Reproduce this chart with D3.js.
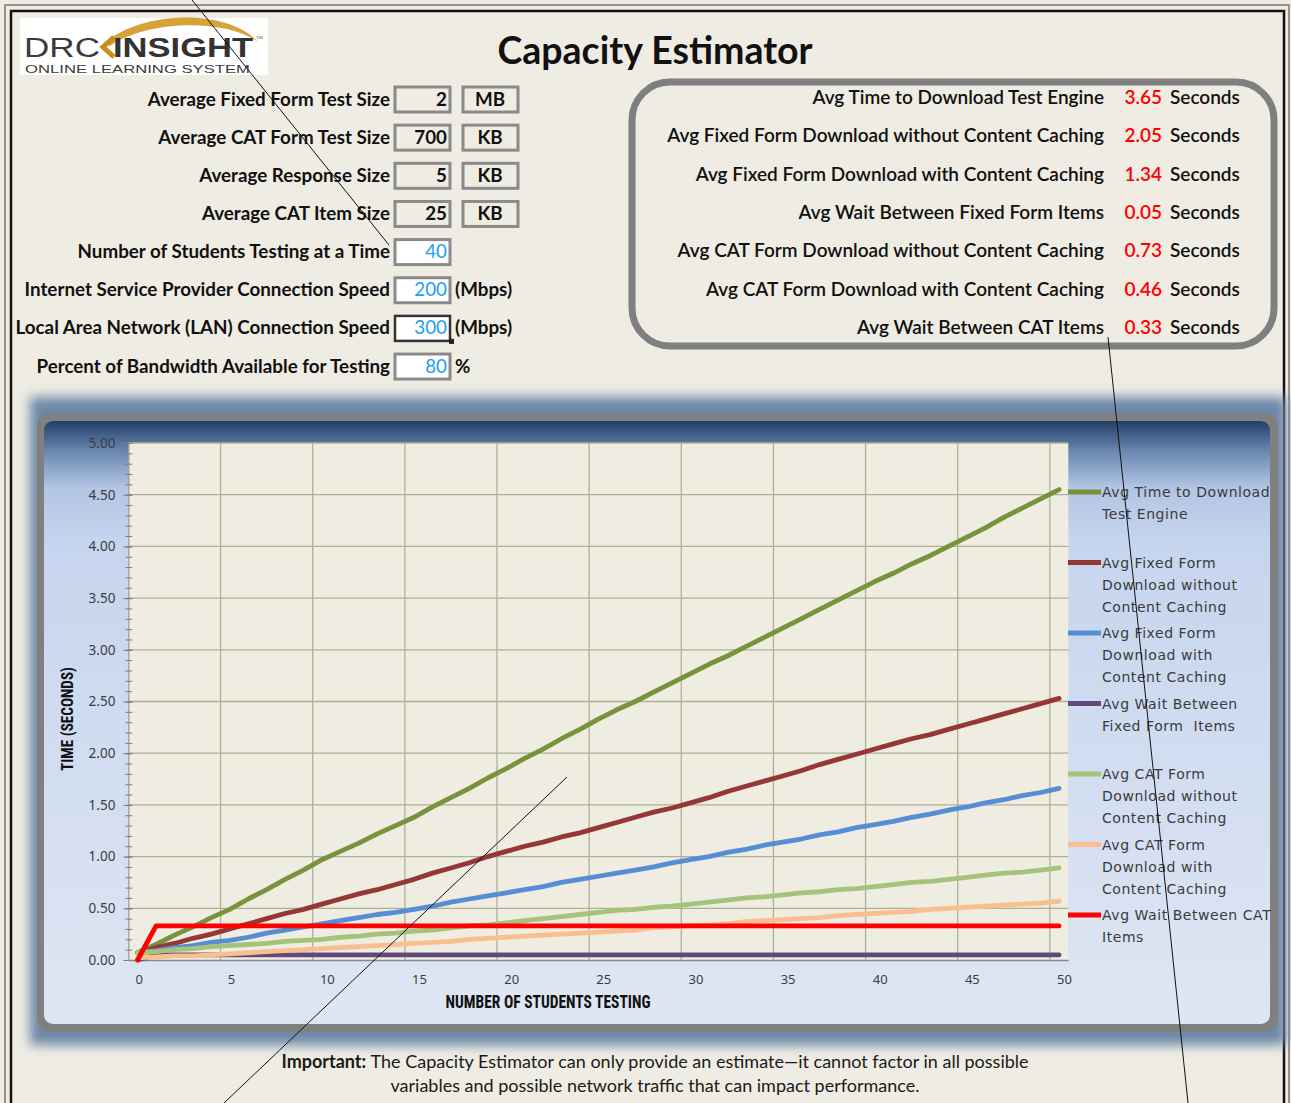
<!DOCTYPE html>
<html>
<head>
<meta charset="utf-8">
<script src="https://cdn.jsdelivr.net/npm/d3@7"></script>
<style>
  body { margin: 0; background: #efece3; }
  svg { display: block; }
</style>
</head>
<body>
<div id="page"></div>
<script>
// chart data
const students = [0,1,2,3,4,5,6,7,8,9,10,11,12,13,14,15,16,17,18,19,20,21,22,23,24,25,26,27,28,29,30,31,32,33,34,35,36,37,38,39,40,41,42,43,44,45,46,47,48,49,50]
const xTickLabels = [0,5,10,15,20,25,30,35,40,45,50]
const yTickLabels = [0,0.5,1,1.5,2,2.5,3,3.5,4,4.5,5]

const engineTime = [0.07,0.15,0.24,0.32,0.41,0.49,0.59,0.68,0.78,0.87,0.97,1.05,1.13,1.22,1.30,1.38,1.48,1.57,1.66,1.76,1.85,1.95,2.04,2.14,2.23,2.33,2.42,2.50,2.59,2.68,2.77,2.86,2.94,3.03,3.12,3.21,3.30,3.39,3.48,3.57,3.66,3.74,3.83,3.91,4.00,4.09,4.18,4.28,4.37,4.46,4.55]
const fixedNoCache = [0.07,0.12,0.16,0.21,0.25,0.30,0.35,0.40,0.45,0.49,0.54,0.59,0.64,0.68,0.73,0.78,0.84,0.89,0.94,1.00,1.05,1.10,1.14,1.19,1.23,1.28,1.33,1.38,1.43,1.47,1.52,1.57,1.63,1.68,1.73,1.78,1.83,1.89,1.94,1.99,2.04,2.09,2.14,2.18,2.23,2.28,2.33,2.38,2.43,2.48,2.53]
const fixedCache = [0.07,0.09,0.12,0.14,0.17,0.19,0.22,0.26,0.29,0.32,0.35,0.38,0.41,0.44,0.46,0.49,0.52,0.56,0.59,0.62,0.65,0.68,0.71,0.75,0.78,0.81,0.84,0.87,0.90,0.94,0.97,1.00,1.04,1.07,1.11,1.14,1.17,1.21,1.24,1.28,1.31,1.34,1.38,1.41,1.45,1.48,1.52,1.55,1.59,1.62,1.66]
const fixedWait = [0.00,0.05,0.05,0.05,0.05,0.05,0.05,0.05,0.05,0.05,0.05,0.05,0.05,0.05,0.05,0.05,0.05,0.05,0.05,0.05,0.05,0.05,0.05,0.05,0.05,0.05,0.05,0.05,0.05,0.05,0.05,0.05,0.05,0.05,0.05,0.05,0.05,0.05,0.05,0.05,0.05,0.05,0.05,0.05,0.05,0.05,0.05,0.05,0.05,0.05,0.05]
const catNoCache = [0.07,0.08,0.10,0.11,0.13,0.14,0.15,0.16,0.18,0.19,0.20,0.22,0.23,0.25,0.26,0.28,0.29,0.31,0.33,0.34,0.36,0.38,0.40,0.42,0.44,0.46,0.48,0.49,0.51,0.52,0.54,0.56,0.58,0.60,0.61,0.63,0.65,0.66,0.68,0.69,0.71,0.73,0.75,0.76,0.78,0.80,0.82,0.84,0.85,0.87,0.89]
const catCache = [0.02,0.03,0.04,0.04,0.05,0.06,0.07,0.08,0.09,0.10,0.11,0.12,0.13,0.14,0.15,0.16,0.17,0.18,0.20,0.21,0.22,0.23,0.24,0.25,0.26,0.27,0.28,0.29,0.31,0.32,0.33,0.34,0.35,0.37,0.38,0.39,0.40,0.41,0.43,0.44,0.45,0.46,0.47,0.49,0.50,0.51,0.52,0.53,0.54,0.55,0.57]
const catWait = [0.00,0.33,0.33,0.33,0.33,0.33,0.33,0.33,0.33,0.33,0.33,0.33,0.33,0.33,0.33,0.33,0.33,0.33,0.33,0.33,0.33,0.33,0.33,0.33,0.33,0.33,0.33,0.33,0.33,0.33,0.33,0.33,0.33,0.33,0.33,0.33,0.33,0.33,0.33,0.33,0.33,0.33,0.33,0.33,0.33,0.33,0.33,0.33,0.33,0.33,0.33]

const seriesNames = [
  ["Avg Time to Download", "Test Engine"],
  ["Avg Fixed Form", "Download without", "Content Caching"],
  ["Avg Fixed Form", "Download with", "Content Caching"],
  ["Avg Wait Between", "Fixed Form  Items"],
  ["Avg CAT Form", "Download without", "Content Caching"],
  ["Avg CAT Form", "Download with", "Content Caching"],
  ["Avg Wait Between CAT", "Items"]
]
const seriesValues = [engineTime, fixedNoCache, fixedCache, fixedWait, catNoCache, catCache, catWait]
const lineColors = ["#77933c", "#953735", "#558ed5", "#604a7b", "#a5c47a", "#fabf8f", "#ff0000"]

const formLabels = ["Average Fixed Form Test Size", "Average CAT Form Test Size", "Average Response Size", "Average CAT Item Size",
  "Number of Students Testing at a Time", "Internet Service Provider Connection Speed", "Local Area Network (LAN) Connection Speed",
  "Percent of Bandwidth Available for Testing"]
const formValues = [2, 700, 5, 25, 40, 200, 300, 80]
const formUnits = ["MB", "KB", "KB", "KB", "", "(Mbps)", "(Mbps)", "%"]

const resultLabels = ["Avg Time to Download Test Engine", "Avg Fixed Form Download without Content Caching",
  "Avg Fixed Form Download with Content Caching", "Avg Wait Between Fixed Form Items",
  "Avg CAT Form Download without Content Caching", "Avg CAT Form Download with Content Caching", "Avg Wait Between CAT Items"]
const resultValues = ["3.65", "2.05", "1.34", "0.05", "0.73", "0.46", "0.33"]

const W = 1291, H = 1103
const uiFont = "Lato, 'Open Sans', sans-serif"
const narrowFont = "'Liberation Sans Narrow', 'Roboto Condensed', 'DejaVu Sans Condensed', sans-serif"

const svg = d3.select("#page").append("svg").attr("width", W).attr("height", H)
const defs = svg.append("defs")

const panelGrad = defs.append("linearGradient").attr("id", "panelGrad")
  .attr("x1", 0).attr("y1", 0).attr("x2", 0).attr("y2", 1)
;[[0, "#213f68"], [0.05, "#6a87b0"], [0.11, "#b2c5e4"], [0.2, "#c6d5ee"], [1, "#dfe6f3"]].forEach(s => {
  panelGrad.append("stop").attr("offset", s[0]).attr("stop-color", s[1])
})
defs.append("filter").attr("id", "glow").attr("x", "-10%").attr("y", "-10%").attr("width", "120%").attr("height", "120%")
  .append("feGaussianBlur").attr("stdDeviation", 6)

// page frame
svg.append("rect").attr("x", 5).attr("y", 5).attr("width", 1284).attr("height", 1110)
  .attr("fill", "none").attr("stroke", "#777").attr("stroke-width", 1.5)
svg.append("rect").attr("x", 11).attr("y", 11).attr("width", 1273).attr("height", 1110)
  .attr("fill", "none").attr("stroke", "#111").attr("stroke-width", 2.5)

// logo
const logo = svg.append("g")
logo.append("rect").attr("x", 20).attr("y", 18).attr("width", 248).attr("height", 57).attr("fill", "#fff")
logo.append("path").attr("d", "M104,44 C140,10 228,8 258,42 C226,18 146,20 110,46 Z").attr("fill", "#d6a23a")
logo.append("path").attr("d", "M114,37 L103,47 L114,57").attr("fill", "none").attr("stroke", "#c58f24").attr("stroke-width", 5)
logo.append("text").attr("x", 24).attr("y", 57).text("DRC")
  .attr("font-family", "'Liberation Sans', Arial, sans-serif").attr("font-size", 27).attr("fill", "#3b3b3b")
  .attr("textLength", 76).attr("lengthAdjust", "spacingAndGlyphs")
logo.append("text").attr("x", 113).attr("y", 57).text("INSIGHT")
  .attr("font-family", "'Liberation Sans', Arial, sans-serif").attr("font-weight", "bold").attr("font-size", 27).attr("fill", "#333")
  .attr("textLength", 140).attr("lengthAdjust", "spacingAndGlyphs")
logo.append("text").attr("x", 256).attr("y", 41).text("™").attr("font-size", 7).attr("fill", "#555")
logo.append("text").attr("x", 25).attr("y", 73).text("ONLINE LEARNING SYSTEM")
  .attr("font-family", "'Liberation Sans', Arial, sans-serif").attr("font-size", 11).attr("fill", "#3b3b3b")
  .attr("textLength", 225).attr("lengthAdjust", "spacingAndGlyphs")

// title
svg.append("text").attr("x", 655).attr("y", 64).attr("text-anchor", "middle").text("Capacity Estimator")
  .attr("font-family", uiFont).attr("font-weight", "bold").attr("font-size", 37.5).attr("fill", "#111")

// input form
const formRowY = i => 99 + i * 38.15
const form = svg.append("g").attr("font-family", uiFont).attr("font-size", 18.8)
formLabels.forEach((label, i) => {
  const cy = formRowY(i)
  const isInput = i >= 4
  form.append("text").attr("x", 390).attr("y", cy + 6.5).attr("text-anchor", "end")
    .attr("font-weight", "bold").attr("fill", "#111").text(label)
  form.append("rect").attr("x", 395).attr("y", cy - 12).attr("width", 55).attr("height", 25)
    .attr("fill", isInput ? "#fff" : "none").attr("stroke", i === 6 ? "#333" : "#8a8a8a").attr("stroke-width", i === 6 ? 2.5 : 3)
  form.append("text").attr("x", 447).attr("y", cy + 6.5).attr("text-anchor", "end")
    .attr("font-weight", isInput ? "normal" : "bold").attr("fill", isInput ? "#20a0ee" : "#111").text(formValues[i])
  if (i < 4) {
    form.append("rect").attr("x", 463).attr("y", cy - 12).attr("width", 55).attr("height", 25)
      .attr("fill", "none").attr("stroke", "#8a8a8a").attr("stroke-width", 3)
    form.append("text").attr("x", 490).attr("y", cy + 6.5).attr("text-anchor", "middle")
      .attr("font-weight", "bold").attr("fill", "#111").text(formUnits[i])
  } else if (formUnits[i]) {
    form.append("text").attr("x", 455).attr("y", cy + 6.5).attr("font-weight", "bold").attr("fill", "#111").text(formUnits[i])
  }
  if (i === 6) {
    form.append("rect").attr("x", 449).attr("y", cy + 11).attr("width", 5).attr("height", 5).attr("fill", "#222")
  }
})

// results box
svg.append("rect").attr("x", 632).attr("y", 82).attr("width", 642).attr("height", 264).attr("rx", 38)
  .attr("fill", "none").attr("stroke", "#7f7f7f").attr("stroke-width", 7)
const results = svg.append("g").attr("font-family", uiFont).attr("font-size", 19)
resultLabels.forEach((label, i) => {
  const cy = 98 + i * 38.3
  results.append("text").attr("x", 1104).attr("y", cy + 6).attr("text-anchor", "end")
    .attr("font-weight", 600).attr("fill", "#111").text(label)
  results.append("text").attr("x", 1162).attr("y", cy + 6).attr("text-anchor", "end")
    .attr("font-weight", 600).attr("fill", "#f00").text(resultValues[i])
  results.append("text").attr("x", 1170).attr("y", cy + 6)
    .attr("font-weight", 600).attr("fill", "#111").text("Seconds")
})

// chart panel
svg.append("rect").attr("x", 30).attr("y", 397).attr("width", 1256).attr("height", 648)
  .attr("fill", "#6c87a8").attr("filter", "url(#glow)")
svg.append("rect").attr("x", 37).attr("y", 413).attr("width", 1241).attr("height", 619).attr("rx", 14)
  .attr("fill", "#808080")
svg.append("rect").attr("x", 44).attr("y", 421).attr("width", 1226).attr("height", 603).attr("rx", 9)
  .attr("fill", "url(#panelGrad)")

const plot = { left: 128.4, right: 1068.3, top: 443, bottom: 960 }
const x = d3.scaleBand().domain(students).range([plot.left, plot.right])
const y = d3.scaleLinear().domain([0, 5]).range([plot.bottom, plot.top])
const cx = d => x(d) + x.bandwidth() / 2

const g = svg.append("g")
g.append("rect").attr("x", plot.left).attr("y", plot.top)
  .attr("width", plot.right - plot.left).attr("height", plot.bottom - plot.top).attr("fill", "#efede2")

// gridlines
g.append("g").selectAll("line").data(yTickLabels.slice(1)).enter().append("line")
  .attr("x1", plot.left).attr("x2", plot.right).attr("y1", d => y(d)).attr("y2", d => y(d))
  .attr("stroke", "#aeb095").attr("stroke-width", 1.3)
g.append("g").selectAll("line").data(xTickLabels.slice(1)).enter().append("line")
  .attr("x1", d => x(d)).attr("x2", d => x(d)).attr("y1", plot.top).attr("y2", plot.bottom)
  .attr("stroke", "#aeb095").attr("stroke-width", 1.3)

// y axis
const minorTicks = d3.range(0, 5.001, 0.1).map(v => +v.toFixed(1))
const yMinor = g.append("g").attr("transform", `translate(${plot.left},0)`)
  .call(d3.axisLeft(y).tickValues(minorTicks).tickFormat("").tickSize(4).tickSizeOuter(0))
yMinor.selectAll(".tick line").attr("x2", -3).attr("x1", 4).attr("stroke", "#7d7d7d")
yMinor.select(".domain").attr("stroke", "#868686")
const yAxis = g.append("g").attr("transform", `translate(${plot.left},0)`)
  .call(d3.axisLeft(y).tickValues(yTickLabels).tickFormat(d3.format(".2f")).tickSize(5).tickPadding(8).tickSizeOuter(0))
yAxis.select(".domain").remove()
yAxis.selectAll(".tick line").attr("x1", 4).attr("stroke", "#7d7d7d")
yAxis.selectAll("text").attr("font-family", "'Noto Sans', sans-serif").attr("font-size", 13.5).attr("fill", "#3c3c3c")

// x axis
const xAxis = g.append("g").attr("transform", `translate(0,${plot.bottom})`)
  .call(d3.axisBottom(x).tickValues(xTickLabels).tickSize(0).tickPadding(15))
xAxis.select(".domain").attr("stroke", "#868686").attr("stroke-width", 1.3)
xAxis.selectAll("text").attr("text-anchor", "start").attr("dx", -2)
  .attr("font-family", "'Noto Sans', sans-serif").attr("font-size", 13).attr("fill", "#3c3c3c")

// axis titles
g.append("text").attr("transform", "translate(73,719) rotate(-90)").attr("text-anchor", "middle")
  .text("TIME (SECONDS)").attr("font-family", narrowFont).attr("font-weight", "bold").attr("font-size", 16)
  .attr("fill", "#111").attr("textLength", 104).attr("lengthAdjust", "spacingAndGlyphs")
g.append("text").attr("x", 548).attr("y", 1008).attr("text-anchor", "middle")
  .text("NUMBER OF STUDENTS TESTING").attr("font-family", narrowFont).attr("font-weight", "bold").attr("font-size", 18)
  .attr("fill", "#111").attr("textLength", 205).attr("lengthAdjust", "spacingAndGlyphs")

// series lines
const line = d3.line().x((d, i) => cx(students[i])).y(d => y(d))
g.append("g").selectAll("path").data(seriesValues).enter().append("path")
  .attr("d", d => line(d)).attr("fill", "none")
  .attr("stroke", (d, i) => lineColors[i]).attr("stroke-width", 4.8)
  .attr("stroke-linejoin", "round").attr("stroke-linecap", "round")

// legend
const legend = g.append("g").attr("font-family", "'DejaVu Sans', sans-serif").attr("font-size", 14)
  .attr("letter-spacing", 0.55).attr("fill", "#3b3b3b")
seriesNames.forEach((lines, i) => {
  const ly = 492 + i * 70.5
  legend.append("line").attr("x1", 1068).attr("x2", 1101).attr("y1", ly).attr("y2", ly)
    .attr("stroke", lineColors[i]).attr("stroke-width", 4.8)
  const t = legend.append("text").attr("x", 1102).attr("y", ly + 5)
  lines.forEach((s, j) => {
    t.append("tspan").attr("x", 1102).attr("dy", j === 0 ? 0 : 22).attr("xml:space", "preserve").text(s)
  })
})

// footer note
const note = svg.append("g").attr("font-family", uiFont).attr("font-size", 18).attr("fill", "#1a1a1a").attr("text-anchor", "middle")
const n1 = note.append("text").attr("x", 655).attr("y", 1068)
n1.append("tspan").attr("font-weight", "bold").text("Important: ")
n1.append("tspan").text("The Capacity Estimator can only provide an estimate\u2014it cannot factor in all possible")
note.append("text").attr("x", 655).attr("y", 1092).text("variables and possible network traffic that can impact performance.")

// stray callout lines on the sheet
const callouts = svg.append("g").attr("stroke", "#111").attr("stroke-width", 1)
callouts.append("line").attr("x1", 192).attr("y1", 0).attr("x2", 389).attr("y2", 245)
callouts.append("line").attr("x1", 567).attr("y1", 777).attr("x2", 224).attr("y2", 1103)
callouts.append("line").attr("x1", 1108).attr("y1", 337).attr("x2", 1188).attr("y2", 1103)
</script>
</body>
</html>
